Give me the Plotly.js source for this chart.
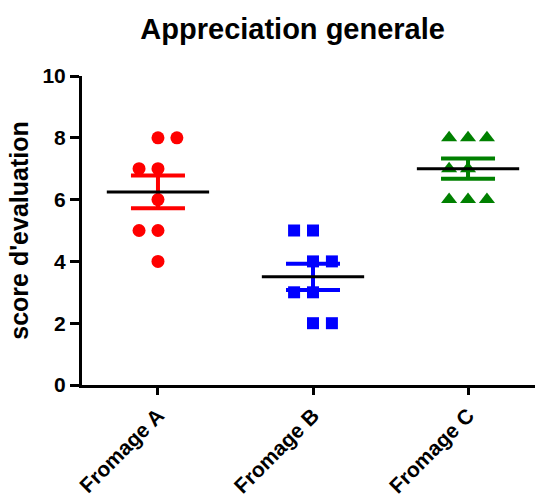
<!DOCTYPE html>
<html>
<head>
<meta charset="utf-8">
<script src="https://cdn.plot.ly/plotly-3.0.1.min.js"></script>
<style>
  html, body { margin: 0; padding: 0; background: #fff; }
  #chart { width: 535px; height: 503px; }
</style>
</head>
<body>
<div id="chart"></div>
<script>
// Scores given by each taster, one array per cheese
const groupNames = ["Fromage A", "Fromage B", "Fromage C"];
const scoresA = [8, 8, 7, 7, 6, 5, 5, 4];
const scoresB = [5, 5, 4, 4, 3, 3, 2, 2];
const scoresC = [8, 8, 8, 7, 7, 6, 6, 6];
const yTicks = [0, 2, 4, 6, 8, 10];

const groups = [scoresA, scoresB, scoresC];
const colors = ["#ff0000", "#0000ff", "#008000"];
const symbols = ["circle", "square", "triangle-up"];
const sizes = [13, 12, 14];
const STEP = 0.122;      // horizontal spacing between tied points
const MEAN_HALF = 0.33;  // half-length of the mean line
const FONT = "Liberation Sans, Arial, sans-serif";

function mean(a) { return a.reduce((s, v) => s + v, 0) / a.length; }
function sem(a) {
  const m = mean(a);
  const v = a.reduce((s, x) => s + (x - m) * (x - m), 0) / (a.length - 1);
  return Math.sqrt(v / a.length);
}

// Spread tied values sideways, scatter-dot-plot style
function spread(values, center) {
  const counts = {};
  values.forEach(v => { counts[v] = (counts[v] || 0) + 1; });
  const seen = {};
  return values.map(v => {
    const n = counts[v];
    const k = seen[v] = (seen[v] === undefined ? 0 : seen[v] + 1);
    let off;
    if (n % 2 === 1) off = k - (n - 1) / 2;
    else off = k - n / 2 + (v % 2 === 0 ? 1 : 0);
    return center + off * STEP;
  });
}

const traces = [];
groups.forEach((vals, i) => {
  traces.push({
    type: "scatter", mode: "markers",
    x: spread(vals, i), y: vals,
    marker: { color: colors[i], symbol: symbols[i], size: sizes[i], line: { width: 0 } },
    hoverinfo: "y", showlegend: false, cliponaxis: false
  });
});
groups.forEach((vals, i) => {
  traces.push({
    type: "scatter", mode: "markers",
    x: [i], y: [mean(vals)],
    marker: { size: 1, opacity: 0 },
    error_y: { type: "data", array: [sem(vals)], visible: true, width: 27, thickness: 4, color: colors[i] },
    hoverinfo: "skip", showlegend: false
  });
});
const mx = [], my = [];
groups.forEach((vals, i) => {
  const m = mean(vals);
  mx.push(i - MEAN_HALF, i + MEAN_HALF, null);
  my.push(m, m, null);
});
traces.push({
  type: "scatter", mode: "lines", x: mx, y: my,
  line: { color: "#000", width: 3 }, hoverinfo: "skip", showlegend: false
});

const layout = {
  width: 535, height: 503,
  margin: { l: 82, r: 0, t: 76, b: 118 },
  paper_bgcolor: "#fff", plot_bgcolor: "#fff",
  font: { family: FONT, color: "#000" },
  title: {
    text: "Appreciation generale",
    font: { family: FONT, size: 29, weight: "bold", color: "#000" },
    xref: "container", x: 0.547, xanchor: "center",
    yref: "container", y: 0.942, yanchor: "middle"
  },
  xaxis: {
    range: [-0.49, 2.432],
    tickmode: "array", tickvals: [0, 1, 2], ticktext: groupNames,
    tickangle: -45,
    tickfont: { family: FONT, size: 21, weight: "bold", color: "#000" },
    ticks: "outside", ticklen: 7, tickwidth: 3, tickcolor: "#000",
    showline: true, linewidth: 3, linecolor: "#000",
    showgrid: false, zeroline: false, automargin: false, fixedrange: true
  },
  yaxis: {
    range: [0, 10],
    tickmode: "array", tickvals: yTicks,
    tickfont: { family: FONT, size: 21, weight: "bold", color: "#000" },
    ticks: "outside", ticklen: 9, tickwidth: 3, tickcolor: "#000",
    showline: true, linewidth: 3, linecolor: "#000",
    showgrid: false, zeroline: false, automargin: false, fixedrange: true,
    title: { text: "score d'evaluation", font: { family: FONT, size: 25, weight: "bold", color: "#000" }, standoff: 7 }
  }
};

Plotly.newPlot("chart", traces, layout, { displayModeBar: false, staticPlot: true });
</script>
</body>
</html>
